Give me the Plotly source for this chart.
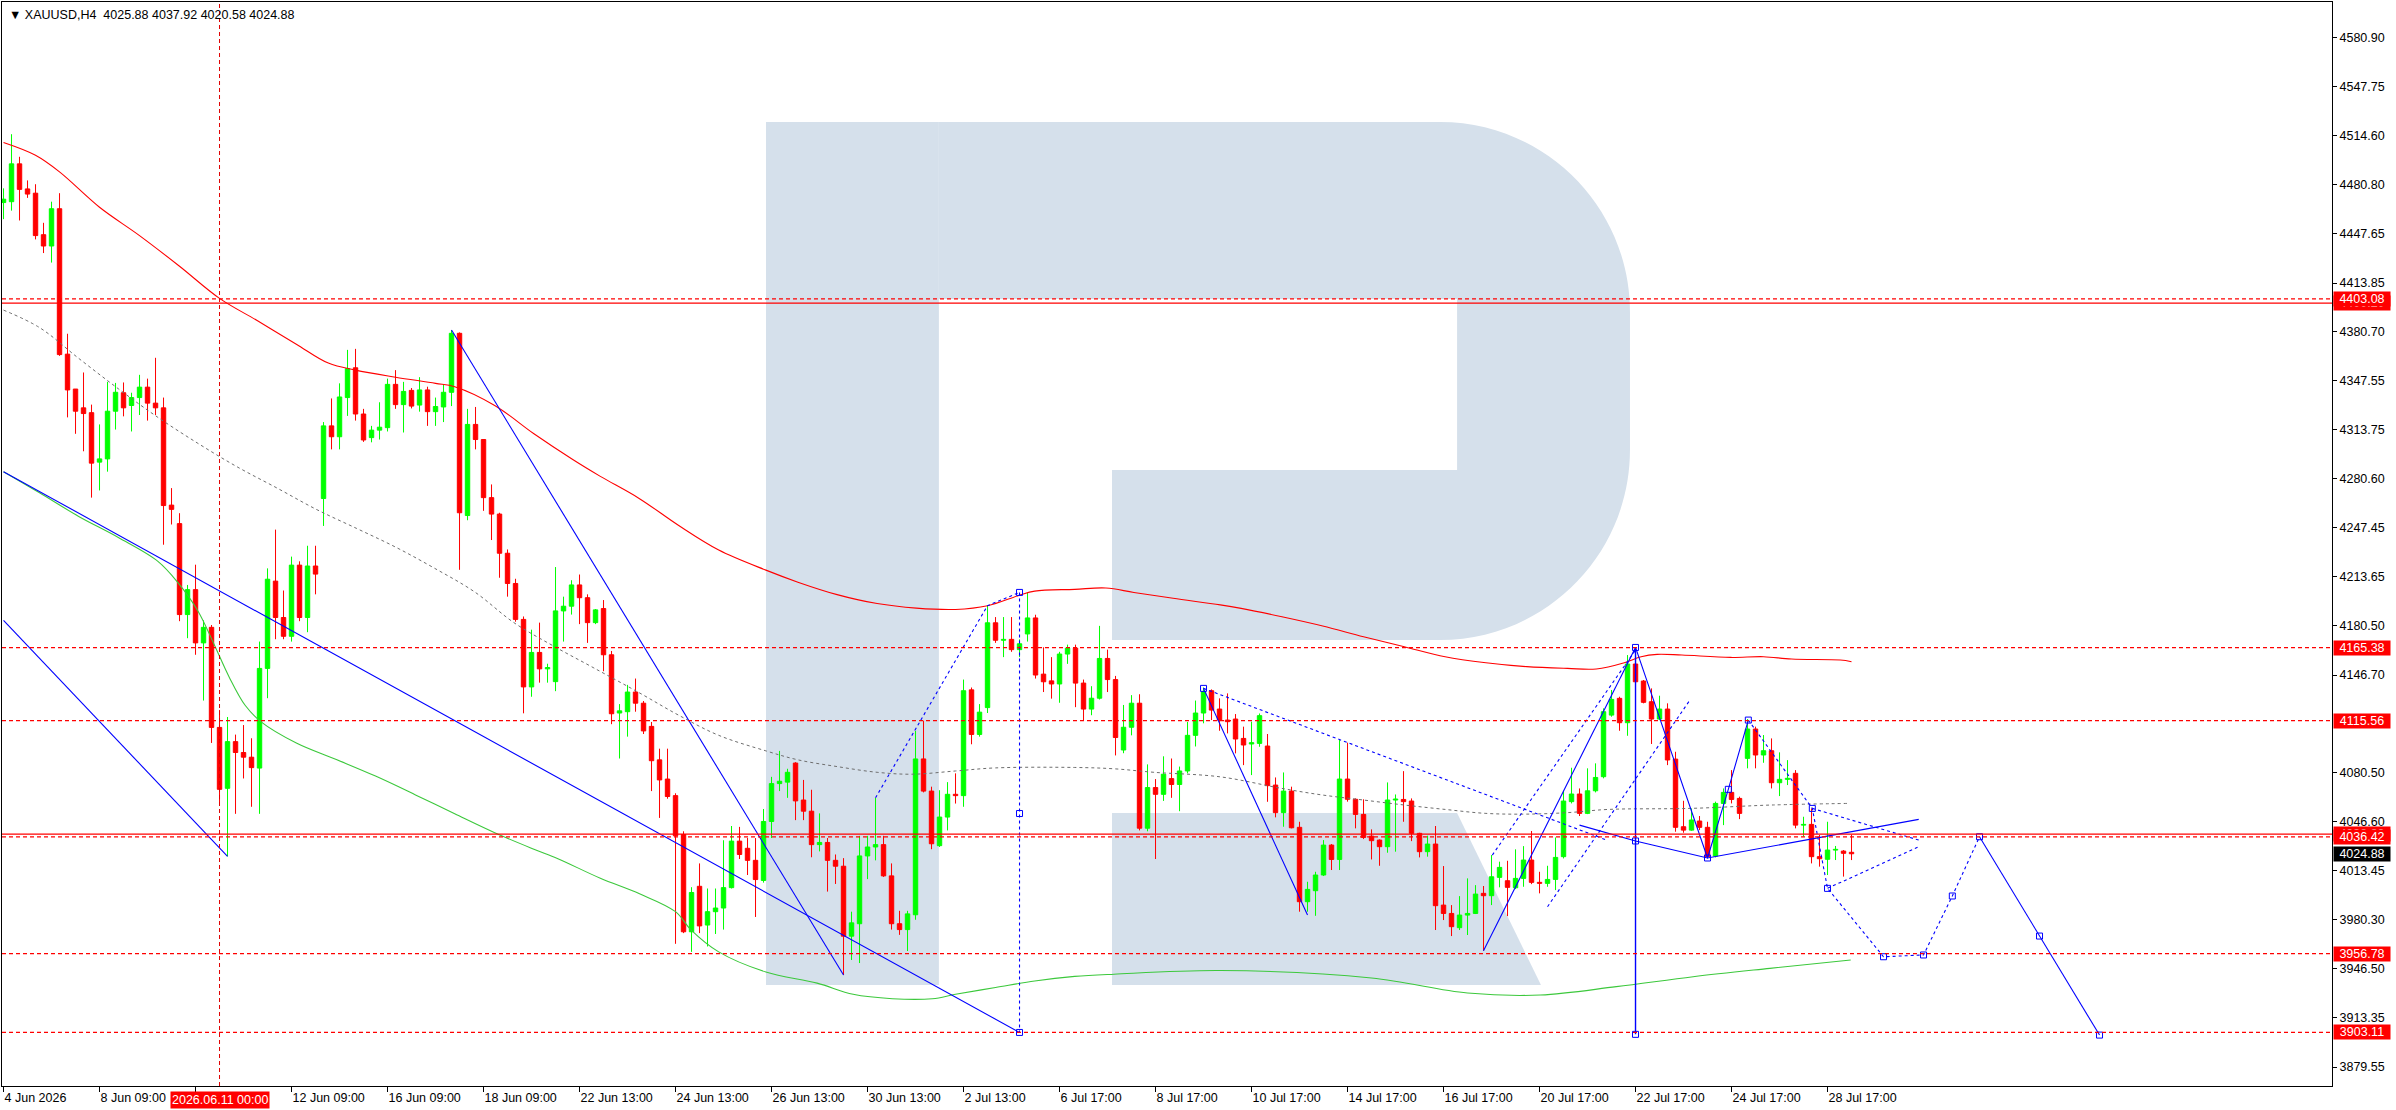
import plotly.graph_objects as go

# ---- XAUUSD H4 candles, bar 0 = 4 Jun 2026 ----
OPEN = [
    4468.7, 4469.3, 4495.1, 4478.0, 4475.1, 4446.8, 4439.1, 4464.5, 4365.4, 4341.6,
    4328.8, 4325.5, 4291.8, 4294.0, 4326.5, 4339.1, 4330.4, 4335.8, 4342.9, 4332.0,
    4328.8, 4262.5, 4249.9, 4187.9, 4204.9, 4168.6, 4179.2, 4111.0, 4069.5, 4101.3,
    4093.9, 4090.7, 4083.3, 4151.2, 4210.7, 4185.9, 4173.1, 4221.6, 4185.9, 4221.0,
    4267.0, 4316.5, 4309.1, 4335.8, 4356.1, 4324.6, 4308.5, 4313.6, 4315.3, 4344.8,
    4331.0, 4340.7, 4330.7, 4341.0, 4326.2, 4329.4, 4339.4, 4379.6, 4255.4, 4317.5,
    4307.2, 4267.6, 4256.4, 4229.7, 4209.1, 4184.6, 4138.6, 4162.1, 4150.9, 4142.2,
    4190.4, 4193.6, 4208.1, 4199.4, 4182.4, 4192.0, 4160.5, 4120.8, 4121.7, 4135.1,
    4127.5, 4111.7, 4088.9, 4075.8, 4064.5, 4038.0, 3971.7, 4002.7, 3976.3, 3985.4,
    3987.9, 4001.8, 4033.5, 4028.6, 4020.4, 4006.7, 4046.9, 4072.7, 4073.7, 4086.7,
    4061.5, 4053.9, 4031.1, 4032.6, 4020.4, 4016.4, 3968.7, 3977.2, 4023.4, 4029.5,
    4031.1, 4009.8, 3977.2, 3973.2, 3983.3, 4089.5, 4067.6, 4030.4, 4049.9, 4065.4,
    4064.5, 4136.6, 4106.2, 4124.5, 4182.3, 4170.4, 4171.0, 4164.0, 4174.7, 4185.6,
    4147.3, 4142.7, 4140.6, 4161.0, 4165.0, 4141.2, 4123.5, 4130.9, 4158.0, 4143.6,
    4095.6, 4111.1, 4127.5, 4042.3, 4070.0, 4065.4, 4076.1, 4072.1, 4081.3, 4105.6,
    4120.8, 4136.0, 4123.5, 4116.0, 4116.7, 4103.5, 4099.7, 4100.1, 4098.3, 4071.7,
    4052.9, 4067.6, 4042.9, 3992.2, 3999.7, 4010.4, 4030.8, 4021.0, 4075.8, 4062.0,
    4051.7, 4036.9, 4034.2, 4029.7, 4061.5, 4061.9, 4060.8, 4038.8, 4026.3, 4031.5,
    3989.9, 3984.2, 3974.5, 3983.1, 3984.2, 3997.9, 3996.3, 4008.8, 4006.5, 4001.7,
    4008.1, 4020.6, 4005.4, 4004.7, 4007.4, 4022.9, 4060.4, 4065.6, 4052.4, 4067.8,
    4077.4, 4119.4, 4130.8, 4114.2, 4154.2, 4142.6, 4128.5, 4116.7, 4123.5, 4089.4,
    4043.3, 4041.0, 4047.2, 4042.9, 4023.3, 4059.2, 4066.7, 4062.6, 4089.9, 4109.9,
    4092.2, 4095.1, 4073.3, 4075.6, 4079.7, 4044.4, 4044.9, 4022.9, 4021.1, 4027.4,
    4026.7, 4025.88,
]
HIGH = [
    4478.4, 4515.3, 4499.9, 4483.8, 4481.2, 4454.9, 4469.3, 4475.1, 4379.3, 4341.6,
    4352.9, 4331.0, 4317.5, 4346.5, 4345.8, 4346.1, 4339.1, 4351.3, 4348.7, 4362.9,
    4335.8, 4274.1, 4257.0, 4208.1, 4221.9, 4184.0, 4180.8, 4122.9, 4118.1, 4106.1,
    4112.6, 4103.6, 4169.5, 4219.4, 4245.8, 4204.3, 4227.4, 4224.2, 4234.8, 4234.8,
    4319.1, 4335.2, 4345.5, 4368.3, 4369.0, 4328.1, 4316.5, 4332.6, 4348.7, 4354.5,
    4346.5, 4342.3, 4349.7, 4343.2, 4335.8, 4344.8, 4381.8, 4380.2, 4328.1, 4329.4,
    4307.2, 4276.6, 4257.3, 4232.3, 4212.3, 4186.6, 4177.6, 4182.4, 4154.4, 4220.3,
    4200.1, 4211.3, 4215.2, 4201.7, 4191.7, 4197.8, 4163.1, 4126.9, 4140.0, 4144.3,
    4129.0, 4114.7, 4096.5, 4096.5, 4066.1, 4040.2, 4002.1, 4018.3, 4001.2, 4001.2,
    4034.1, 4043.8, 4043.2, 4035.6, 4035.6, 4055.4, 4077.3, 4095.0, 4082.8, 4087.3,
    4075.2, 4068.5, 4052.4, 4035.6, 4024.4, 4021.9, 3985.4, 4037.1, 4037.1, 4063.0,
    4037.1, 4018.3, 3986.0, 3986.0, 4108.6, 4115.6, 4070.6, 4068.2, 4073.7, 4079.7,
    4143.6, 4138.2, 4126.9, 4193.9, 4186.2, 4186.2, 4186.2, 4171.0, 4203.0, 4187.8,
    4165.6, 4158.9, 4162.5, 4167.4, 4167.4, 4143.6, 4139.1, 4180.2, 4164.0, 4146.1,
    4126.3, 4133.0, 4133.6, 4085.8, 4075.8, 4091.3, 4089.8, 4084.3, 4114.7, 4129.3,
    4138.2, 4136.9, 4130.8, 4134.2, 4120.1, 4111.5, 4114.9, 4120.5, 4106.5, 4076.9,
    4080.3, 4070.6, 4046.7, 4005.8, 4012.6, 4034.2, 4031.5, 4102.4, 4100.6, 4062.6,
    4062.0, 4041.5, 4034.7, 4073.5, 4065.3, 4081.2, 4062.6, 4039.2, 4037.2, 4043.8,
    4016.5, 3989.9, 3996.0, 4008.1, 4003.5, 4002.9, 4024.0, 4019.5, 4020.1, 4027.9,
    4030.1, 4040.4, 4012.6, 4016.7, 4036.0, 4067.8, 4083.5, 4069.4, 4083.1, 4086.5,
    4124.0, 4136.5, 4131.9, 4160.3, 4165.5, 4143.3, 4137.6, 4132.6, 4127.4, 4094.4,
    4061.0, 4055.8, 4050.6, 4046.7, 4060.4, 4069.4, 4081.9, 4063.8, 4116.7, 4111.5,
    4105.8, 4103.5, 4094.0, 4088.7, 4081.9, 4050.1, 4055.8, 4037.7, 4046.7, 4030.2,
    4027.4, 4037.92,
]
LOW = [
    4457.4, 4463.2, 4456.5, 4471.9, 4443.6, 4434.3, 4427.8, 4364.2, 4322.3, 4311.1,
    4299.2, 4267.6, 4272.5, 4285.3, 4314.0, 4323.0, 4312.7, 4323.9, 4320.1, 4323.9,
    4235.5, 4249.3, 4183.4, 4171.8, 4160.5, 4129.3, 4100.4, 4060.1, 4023.1, 4052.1,
    4076.2, 4056.9, 4052.1, 4130.9, 4171.1, 4171.1, 4169.5, 4183.4, 4175.9, 4201.7,
    4248.3, 4300.5, 4300.5, 4323.3, 4320.1, 4305.6, 4305.3, 4307.2, 4312.7, 4328.1,
    4312.0, 4328.4, 4326.2, 4316.5, 4316.5, 4319.1, 4330.0, 4218.4, 4252.2, 4300.5,
    4258.6, 4238.7, 4213.0, 4200.1, 4183.0, 4120.6, 4131.9, 4141.5, 4141.5, 4135.7,
    4169.5, 4187.9, 4181.4, 4168.6, 4181.4, 4149.3, 4113.2, 4089.8, 4104.7, 4121.7,
    4106.5, 4067.6, 4049.3, 4062.4, 3963.5, 3970.8, 3958.0, 3970.8, 3961.7, 3970.2,
    3973.2, 4001.2, 4021.3, 4010.4, 3981.8, 4005.2, 4035.6, 4067.6, 4063.0, 4047.8,
    4047.8, 4022.5, 4026.5, 3999.1, 4004.3, 3942.2, 3952.5, 3950.4, 4007.6, 4020.4,
    4009.1, 3973.2, 3969.6, 3958.6, 3979.9, 4066.7, 4028.0, 4029.5, 4040.8, 4059.1,
    4056.9, 4099.5, 4104.7, 4120.8, 4168.6, 4158.9, 4162.5, 4158.9, 4169.5, 4144.3,
    4135.1, 4130.6, 4127.8, 4154.3, 4124.8, 4115.6, 4119.3, 4130.0, 4135.1, 4091.9,
    4093.4, 4105.6, 4040.8, 4040.2, 4021.3, 4060.9, 4063.0, 4053.9, 4079.7, 4098.0,
    4113.8, 4116.0, 4108.7, 4106.9, 4093.3, 4085.3, 4078.5, 4097.8, 4060.3, 4049.7,
    4043.3, 4042.2, 3985.4, 3985.4, 3982.6, 4009.7, 4013.8, 4013.8, 4060.4, 4042.2,
    4034.9, 4021.0, 4016.7, 4025.6, 4026.3, 4046.7, 4033.5, 4022.4, 4022.9, 3972.9,
    3979.7, 3968.8, 3972.9, 3969.5, 3983.8, 3958.8, 3989.9, 4002.0, 3982.4, 4000.8,
    4002.4, 4004.2, 3997.9, 4002.4, 4000.1, 4021.7, 4059.2, 4050.6, 4051.9, 4066.7,
    4076.3, 4118.3, 4108.7, 4105.3, 4141.5, 4127.4, 4099.7, 4116.0, 4085.3, 4039.9,
    4039.2, 4040.6, 4041.0, 4021.7, 4022.4, 4044.4, 4059.2, 4048.5, 4083.1, 4083.1,
    4086.9, 4069.4, 4064.2, 4071.7, 4042.2, 4036.5, 4018.3, 4016.1, 4010.4, 4020.6,
    4009.3, 4020.58,
]
CLOSE = [
    4471.0, 4495.1, 4477.7, 4474.5, 4446.2, 4439.1, 4464.5, 4365.1, 4341.0, 4326.5,
    4324.9, 4291.1, 4294.0, 4326.5, 4339.4, 4328.8, 4335.8, 4342.9, 4332.0, 4328.8,
    4262.2, 4259.6, 4187.9, 4204.9, 4168.6, 4179.2, 4111.0, 4068.8, 4101.3, 4093.9,
    4090.7, 4083.6, 4151.2, 4212.0, 4185.9, 4173.1, 4221.6, 4185.9, 4221.0, 4215.5,
    4316.5, 4309.1, 4336.2, 4355.5, 4324.6, 4306.9, 4313.6, 4315.6, 4344.8, 4331.0,
    4340.0, 4330.0, 4341.0, 4326.2, 4329.7, 4339.4, 4379.6, 4257.3, 4317.5, 4307.2,
    4267.6, 4256.4, 4229.7, 4209.1, 4184.6, 4138.6, 4162.1, 4150.9, 4151.8, 4190.4,
    4193.6, 4208.1, 4199.4, 4182.4, 4191.1, 4160.5, 4120.3, 4122.3, 4135.1, 4127.5,
    4108.6, 4088.3, 4075.2, 4063.9, 4037.1, 3971.7, 3998.5, 3975.7, 3985.4, 3987.9,
    4001.8, 4033.5, 4024.4, 4020.4, 4007.3, 4046.9, 4072.7, 4074.3, 4080.4, 4060.9,
    4053.9, 4031.1, 4032.6, 4020.4, 4016.4, 3968.7, 3977.8, 4023.4, 4029.5, 4031.1,
    4009.8, 3977.2, 3973.2, 3983.9, 4089.5, 4067.6, 4031.7, 4049.9, 4065.4, 4064.5,
    4136.0, 4106.2, 4121.4, 4182.3, 4170.4, 4171.0, 4164.0, 4168.0, 4185.6, 4146.7,
    4142.1, 4140.6, 4161.0, 4165.0, 4141.2, 4123.5, 4130.9, 4158.0, 4143.6, 4104.1,
    4111.1, 4127.5, 4042.3, 4070.0, 4065.4, 4079.1, 4072.1, 4081.3, 4105.6, 4120.8,
    4135.4, 4122.8, 4116.0, 4114.9, 4103.1, 4099.0, 4100.6, 4119.0, 4071.3, 4052.9,
    4067.6, 4042.6, 3992.2, 4000.6, 4010.4, 4030.8, 4021.0, 4075.8, 4062.0, 4051.7,
    4036.0, 4033.8, 4029.7, 4061.5, 4062.2, 4060.4, 4038.8, 4026.3, 4031.5, 3989.5,
    3984.2, 3975.2, 3983.1, 3984.2, 3997.4, 3996.3, 4009.2, 4015.6, 4002.0, 4008.1,
    4020.6, 4005.4, 4004.7, 4007.4, 4022.4, 4060.8, 4065.6, 4052.4, 4067.8, 4076.9,
    4121.7, 4130.1, 4114.2, 4154.2, 4142.1, 4128.1, 4116.7, 4123.5, 4088.8, 4042.9,
    4041.0, 4047.9, 4042.9, 4022.9, 4059.2, 4066.7, 4061.9, 4052.4, 4109.9, 4092.2,
    4095.1, 4073.3, 4075.6, 4076.3, 4044.4, 4044.9, 4022.9, 4021.5, 4027.4, 4027.9,
    4025.2, 4024.88,
]

# time axis labels, one every 12 bars ("10 Jun 09:00" sits under the crosshair label)
DATE_TICKS = list(range(0, 229, 12))
DATE_LABELS = [
    "4 Jun 2026", "8 Jun 09:00", "", "12 Jun 09:00", "16 Jun 09:00", "18 Jun 09:00",
    "22 Jun 13:00", "24 Jun 13:00", "26 Jun 13:00", "30 Jun 13:00", "2 Jul 13:00",
    "6 Jul 17:00", "8 Jul 17:00", "10 Jul 17:00", "14 Jul 17:00", "16 Jul 17:00",
    "20 Jul 17:00", "22 Jul 17:00", "24 Jul 17:00", "28 Jul 17:00",
]
PRICE_TICKS = [4580.90, 4547.75, 4514.60, 4480.80, 4447.65, 4413.85, 4380.70, 4347.55,
               4313.75, 4280.60, 4247.45, 4213.65, 4180.50, 4146.70, 4080.50, 4046.60,
               4013.45, 3980.30, 3946.50, 3913.35, 3879.55]

# moving averages (bar, price)
MA_RED_X = [0, 4, 7, 12, 17, 22, 27, 31.7, 36.6, 40.6, 44, 49, 54, 56.4, 61.4, 66.3, 71.2,
            74.6, 79.5, 84.4, 89.4, 95.3, 99.3, 104.2, 109.2, 114.1, 119, 123, 126.9, 128.9,
            133.9, 137.8, 141.3, 146.2, 152.1, 154.7, 159.8, 164.9, 170, 175.1, 180.2, 185.3,
            190.4, 195.5, 199.1, 202.6, 204.7, 206.7, 209.8, 215.9, 220, 223.5, 229.6, 231]
MA_RED_Y = [4509.6, 4500.9, 4489.6, 4465.5, 4446.2, 4425.3, 4403.4, 4388.3, 4372.2, 4359.3,
            4354.5, 4349.7, 4345.5, 4343.2, 4330.4, 4311.1, 4293.4, 4282.1, 4266.9, 4248.6,
            4231.9, 4218.2, 4210.0, 4201.5, 4195.4, 4192.3, 4191.4, 4193.9, 4200.9, 4203.9,
            4205.1, 4206.0, 4203.0, 4199.0, 4194.5, 4192.1, 4186.4, 4180.1, 4172.8, 4166.0,
            4159.2, 4155.1, 4152.4, 4151.2, 4150.8, 4155.1, 4159.2, 4160.8, 4160.3, 4158.7,
            4159.2, 4157.6, 4156.9, 4155.8]
MA_GREEN_X = [0, 4.5, 9.4, 14.4, 19.3, 21.8, 24.3, 26.3, 28.2, 30.2, 32.2, 36.6, 41.6, 46.5,
              51.5, 56.4, 61.4, 66.3, 69.3, 74.6, 79.5, 84.0, 85.9, 89.4, 95.3, 101.7, 106.2,
              111.1, 116.1, 119.0, 124.0, 128.9, 133.9, 138.8, 152.1, 171, 183, 192.1, 201.6,
              211.2, 220.8, 230.9]
MA_GREEN_Y = [4285.3, 4270.9, 4254.8, 4240.3, 4224.2, 4209.7, 4190.4, 4167.9, 4145.4, 4126.1,
              4114.8, 4100.4, 4089.1, 4077.8, 4065.0, 4052.1, 4039.2, 4028.0, 4021.5, 4008.2,
              3997.6, 3985.4, 3973.2, 3958.0, 3944.3, 3936.7, 3929.1, 3926.1, 3926.1, 3929.1,
              3933.7, 3938.2, 3941.3, 3942.8, 3945.3, 3940.2, 3930.0, 3928.6, 3934.3, 3941.1,
              3946.8, 3952.5]
MA_GRAY_X = [0, 4.5, 9.4, 14.4, 19.3, 24.3, 29.2, 34.2, 39.1, 44.1, 49.0, 53.9, 58.9, 63.8,
             68.8, 73.7, 79.5, 84.4, 89.4, 95.3, 99.3, 104.2, 109.2, 113.6, 119.0, 124.0,
             133.9, 138.8, 143.8, 152.1, 159.8, 164.9, 170.0, 175.1, 180.2, 185.3, 190.4,
             195.5, 200.6, 210.8, 221.0, 230.6]
MA_GRAY_Y = [4395.4, 4383.5, 4362.5, 4341.6, 4322.3, 4304.6, 4288.6, 4274.1, 4259.6, 4246.7,
             4233.9, 4219.4, 4203.3, 4182.4, 4166.3, 4151.8, 4134.5, 4119.3, 4105.6, 4095.0,
             4088.9, 4084.3, 4080.4, 4079.1, 4081.3, 4083.4, 4083.7, 4082.8, 4080.4, 4077.3,
             4069.4, 4064.9, 4061.5, 4058.1, 4055.1, 4052.4, 4051.9, 4052.9, 4055.1, 4055.8,
             4058.1, 4059.2]

# wave markup (bar, price)
SOLID_LEGS = [
    ([0, 127], [4285.3, 3903.1]),
    ([0, 28], [4184.0, 4023.1]),
    ([56, 105], [4381.8, 3942.2]),
    ([150, 163], [4137.6, 3983.1]),
    ([185, 204], [3958.8, 4165.5]),
    ([197, 204, 213, 239.4], [4044.4, 4033.6, 4022.0, 4048.3]),
    ([204, 213, 215.6, 218.1], [4165.5, 4022.0, 4068.8, 4116.0]),
    ([247.0, 254.5, 262.0], [4036.5, 3968.8, 3901.3]),
]
DOTTED_LEGS = [
    ([109, 123, 127], [4063.0, 4194.0, 4203.0]),
    ([127, 127], [4203.0, 3903.1]),
    ([150, 200.5], [4137.6, 4034.0]),
    ([186.1, 204], [4024.0, 4163.7]),
    ([193.0, 210.8], [3988.8, 4129.6]),
    ([218.1, 226.1, 228.0, 235.0, 240.0, 243.6, 247.0],
     [4116.0, 4055.8, 4001.3, 3954.7, 3955.9, 3996.1, 4036.5]),
    ([226.1, 239.4], [4055.8, 4034.2]),
    ([228.0, 239.4], [4001.3, 4029.7]),
]
TIME_LINE_BAR = 204
TIME_LINE_Y = [4165.5, 3901.8]
VERTEX_X = [127, 127, 127, 150, 204, 204, 204, 213, 215.6, 218.1, 226.1, 228.0, 235.0,
            240.0, 243.6, 247.0, 254.5, 262.0]
VERTEX_Y = [4203.0, 4052.3, 3903.1, 4137.6, 4165.5, 4033.6, 3901.8, 4022.0, 4068.8, 4116.0,
            4055.8, 4001.3, 3954.7, 3955.9, 3996.1, 4036.5, 3968.8, 3901.3]

LEVELS_DOTTED = [4403.08, 4165.38, 4115.56, 4036.42, 3956.78, 3903.11]
LEVELS_SOLID = [4400.20, 4038.30]
LAST_PRICE = 4024.88
CROSSHAIR_BAR = 27
CROSSHAIR_LABEL = "2026.06.11 00:00"
HEADER = "\u25bc XAUUSD,H4\u00a0\u00a04025.88 4037.92 4020.58 4024.88"

FONT = "Liberation Sans, Arial, sans-serif"
UP, DOWN, BLUE = "#00FF00", "#FF0000", "#0000FF"

fig = go.Figure()

n = len(CLOSE)
up_idx = [i for i in range(n) if CLOSE[i] >= OPEN[i]]
dn_idx = [i for i in range(n) if CLOSE[i] < OPEN[i]]

for idx, col in ((up_idx, UP), (dn_idx, DOWN)):
    wx, wy = [], []
    for i in idx:
        wx += [i, i, None]
        wy += [HIGH[i], LOW[i], None]
    fig.add_trace(go.Scatter(x=wx, y=wy, mode="lines", line=dict(color=col, width=1),
                             hoverinfo="skip"))
    fig.add_trace(go.Bar(
        x=idx,
        base=[min(OPEN[i], CLOSE[i]) for i in idx],
        y=[abs(CLOSE[i] - OPEN[i]) for i in idx],
        width=0.55,
        marker=dict(color=col, line=dict(color=col, width=1)),
        hoverinfo="skip",
    ))

# moving averages
fig.add_trace(go.Scatter(x=MA_GRAY_X, y=MA_GRAY_Y, mode="lines", line_shape="spline",
                         line=dict(color="#6E6E6E", width=1, dash="3px,3px")))
fig.add_trace(go.Scatter(x=MA_GREEN_X, y=MA_GREEN_Y, mode="lines", line_shape="spline",
                         line=dict(color="#3CC83C", width=1.1)))
fig.add_trace(go.Scatter(x=MA_RED_X, y=MA_RED_Y, mode="lines", line_shape="spline",
                         line=dict(color="#FF0000", width=1.1)))

# wave markup
for xs, ys in SOLID_LEGS:
    fig.add_trace(go.Scatter(x=xs, y=ys, mode="lines", line=dict(color=BLUE, width=1.1)))
for xs, ys in DOTTED_LEGS:
    fig.add_trace(go.Scatter(x=xs, y=ys, mode="lines",
                             line=dict(color=BLUE, width=1.1, dash="3px,3px")))
fig.add_trace(go.Scatter(x=[TIME_LINE_BAR, TIME_LINE_BAR], y=TIME_LINE_Y, mode="lines",
                         line=dict(color=BLUE, width=1.4)))
fig.add_trace(go.Scatter(x=VERTEX_X, y=VERTEX_Y, mode="markers",
                         marker=dict(symbol="square-open", size=6, color=BLUE,
                                     line=dict(width=1, color=BLUE))))

# watermark "R" (paper coordinates)
wm = "#D5E0EB"
shapes = [
    dict(type="rect", xref="paper", yref="paper", x0=0.3279, x1=0.4021, y0=0.0932, y1=0.8893,
         fillcolor=wm, line_width=0, layer="below"),
    dict(type="path", xref="paper", yref="paper", layer="below", fillcolor=wm, line_width=0,
         path="M 0.4021,0.8893 L 0.6172,0.8893 C 0.6622,0.8893 0.6987,0.8108 0.6987,0.7140 "
              "L 0.6987,0.5867 C 0.6987,0.4899 0.6622,0.4114 0.6172,0.4114 L 0.4764,0.4114 "
              "L 0.4764,0.5683 L 0.6245,0.5683 L 0.6245,0.7260 L 0.4021,0.7260 Z"),
    dict(type="path", xref="paper", yref="paper", layer="below", fillcolor=wm, line_width=0,
         path="M 0.4764,0.2518 L 0.6245,0.2518 L 0.6605,0.0932 L 0.4764,0.0932 Z"),
]
for lv in LEVELS_SOLID:
    shapes.append(dict(type="line", xref="paper", x0=0, x1=1, yref="y", y0=lv, y1=lv,
                       line=dict(color="#FF0000", width=1.2)))
for lv in LEVELS_DOTTED:
    shapes.append(dict(type="line", xref="paper", x0=0, x1=1, yref="y", y0=lv, y1=lv,
                       line=dict(color="#FF0000", width=1.2, dash="4px,3px")))
shapes.append(dict(type="line", xref="x", x0=CROSSHAIR_BAR, x1=CROSSHAIR_BAR, yref="paper",
                   y0=0, y1=1, line=dict(color="#E00000", width=1, dash="4px,3px")))

annotations = [
    dict(text=HEADER, xref="paper", yref="paper", x=0, y=1, xanchor="left", yanchor="top",
         xshift=5, yshift=-4, showarrow=False, font=dict(family=FONT, size=12.5, color="#000")),
    dict(text=CROSSHAIR_LABEL, xref="x", x=CROSSHAIR_BAR, yref="paper", y=0, yanchor="top",
         yshift=-5, showarrow=False, bgcolor="#FF0000", borderpad=1,
         font=dict(family=FONT, size=12.5, color="#FFFFFF")),
]
for lv in LEVELS_SOLID + LEVELS_DOTTED:
    annotations.append(dict(text=f"{lv:.2f}", xref="paper", x=1, xanchor="left", xshift=1,
                            yref="y", y=lv, showarrow=False, bgcolor="#FF0000", width=56,
                            height=14, borderpad=0,
                            font=dict(family=FONT, size=12.5, color="#FFFFFF")))
annotations.append(dict(text=f"{LAST_PRICE:.2f}", xref="paper", x=1, xanchor="left", xshift=1,
                        yref="y", y=LAST_PRICE, showarrow=False, bgcolor="#000000", width=56,
                        height=14, borderpad=0,
                        font=dict(family=FONT, size=12.5, color="#FFFFFF")))

fig.update_layout(
    width=2396, height=1110,
    margin=dict(l=2, r=64, t=2, b=24, pad=0),
    paper_bgcolor="white", plot_bgcolor="white",
    showlegend=False, barmode="overlay",
    font=dict(family=FONT, size=12.5, color="#000"),
    shapes=shapes, annotations=annotations,
    xaxis=dict(range=[-0.19, 291.06], showgrid=False, zeroline=False,
               tickmode="array", tickvals=DATE_TICKS, ticktext=DATE_LABELS,
               ticks="outside", ticklen=5, tickcolor="#000", ticklabelposition="outside right",
               showline=True, linecolor="#000", linewidth=1, mirror=True,
               tickfont=dict(family=FONT, size=12.5, color="#000")),
    yaxis=dict(range=[3866.6, 4605.4], side="right", showgrid=False, zeroline=False,
               tickmode="array", tickvals=PRICE_TICKS,
               ticktext=[f"{v:.2f}" for v in PRICE_TICKS],
               ticks="outside", ticklen=4, tickcolor="#000",
               showline=True, linecolor="#000", linewidth=1, mirror=True,
               tickfont=dict(family=FONT, size=12.5, color="#000")),
)

fig.write_html("out.html", config={"displayModeBar": False},
               post_script="document.body.style.margin='0';")
